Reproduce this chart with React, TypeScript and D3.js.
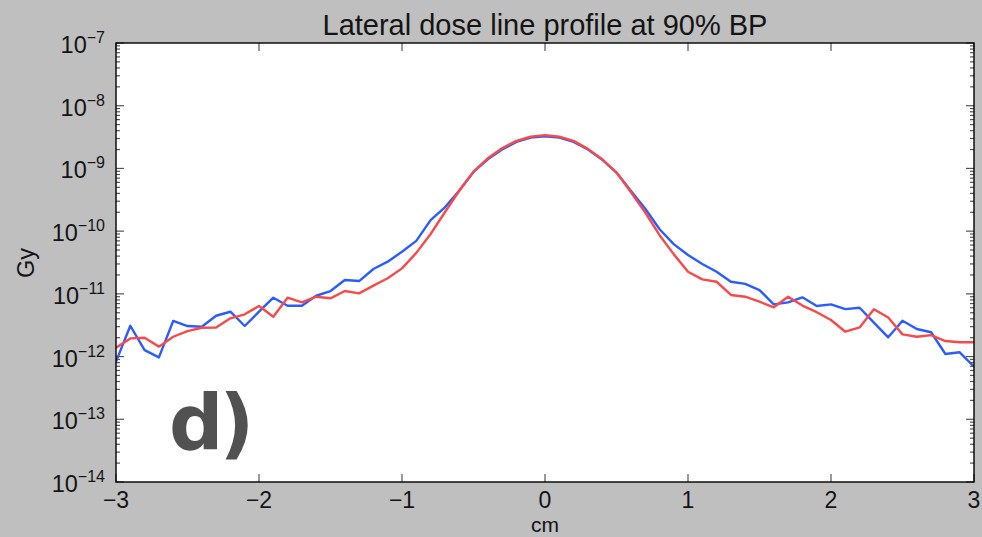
import React from "react";
import * as d3 from "d3";

const positionsCm = [
  -3.0, -2.9, -2.8, -2.7, -2.6, -2.5, -2.4, -2.3, -2.2, -2.1,
  -2.0, -1.9, -1.8, -1.7, -1.6, -1.5, -1.4, -1.3, -1.2, -1.1,
  -1.0, -0.9, -0.8, -0.7, -0.6, -0.5, -0.4, -0.3, -0.2, -0.1,
  0.0, 0.1, 0.2, 0.3, 0.4, 0.5, 0.6, 0.7, 0.8, 0.9,
  1.0, 1.1, 1.2, 1.3, 1.4, 1.5, 1.6, 1.7, 1.8, 1.9,
  2.0, 2.1, 2.2, 2.3, 2.4, 2.5, 2.6, 2.7, 2.8, 2.9, 3.0,
];

const blueDose = [
  8.3e-13, 3.1e-12, 1.27e-12, 9.7e-13, 3.7e-12, 3.07e-12, 2.99e-12, 4.48e-12, 5.19e-12, 3.07e-12,
  5.19e-12, 8.68e-12, 6.47e-12, 6.47e-12, 9.33e-12, 1.11e-11, 1.66e-11, 1.6e-11, 2.49e-11, 3.26e-11,
  4.7e-11, 7.0e-11, 1.5e-10, 2.4e-10, 4.4e-10, 8.8e-10, 1.4e-9, 2.0e-9, 2.65e-9, 3.1e-9,
  3.25e-9, 3.1e-9, 2.65e-9, 2.0e-9, 1.38e-9, 8.6e-10, 4.4e-10, 2.3e-10, 1.08e-10, 6.2e-11,
  4.16e-11, 3.0e-11, 2.25e-11, 1.56e-11, 1.44e-11, 1.15e-11, 6.8e-12, 7.3e-12, 8.8e-12, 6.4e-12,
  6.8e-12, 5.7e-12, 6.0e-12, 3.47e-12, 2.03e-12, 3.73e-12, 2.75e-12, 2.44e-12, 1.1e-12, 1.17e-12, 6.9e-13,
];

const redDose = [
  1.38e-12, 1.95e-12, 2.0e-12, 1.44e-12, 2.07e-12, 2.55e-12, 2.88e-12, 2.9e-12, 4.07e-12, 4.72e-12,
  6.4e-12, 4.32e-12, 8.68e-12, 7.33e-12, 9.0e-12, 8.49e-12, 1.11e-11, 1.02e-11, 1.35e-11, 1.77e-11,
  2.55e-11, 4.5e-11, 9.0e-11, 2.0e-10, 4.4e-10, 8.9e-10, 1.45e-9, 2.1e-9, 2.75e-9, 3.2e-9,
  3.4e-9, 3.2e-9, 2.75e-9, 2.05e-9, 1.4e-9, 8.6e-10, 4.2e-10, 2.0e-10, 8.7e-11, 4.3e-11,
  2.25e-11, 1.7e-11, 1.56e-11, 9.6e-12, 9.0e-12, 7.5e-12, 6.1e-12, 9.0e-12, 6.5e-12, 5.1e-12,
  3.83e-12, 2.49e-12, 2.92e-12, 5.67e-12, 4.2e-12, 2.26e-12, 2.07e-12, 2.2e-12, 1.77e-12, 1.69e-12, 1.69e-12,
];

const xTickValues = [-3, -2, -1, 0, 1, 2, 3];
const xTickLabels = ["\u22123", "\u22122", "\u22121", "0", "1", "2", "3"];
const yExponents = [-7, -8, -9, -10, -11, -12, -13, -14];

const TITLE = "Lateral dose line profile at 90% BP";
const X_LABEL = "cm";
const Y_LABEL = "Gy";
const PANEL = "d)";

const W = 982;
const H = 537;
const M = { left: 116, right: 974, top: 43, bottom: 482 };
const FONT = "'Liberation Sans', Arial, Helvetica, sans-serif";

export default function App() {
  const x = d3.scaleLinear().domain([-3, 3]).range([M.left, M.right]);
  const y = d3.scaleLog().domain([1e-14, 1e-7]).range([M.bottom, M.top]);

  const line = d3
    .line<number>()
    .x((_, i) => x(positionsCm[i]))
    .y((d) => y(d));

  const minorTicks: number[] = [];
  for (let e = -14; e < -7; e++) {
    for (let m = 2; m <= 9; m++) minorTicks.push(m * Math.pow(10, e));
  }

  const tickColor = "#555";
  const textColor = "#141414";

  return (
    <svg
      width={W}
      height={H}
      style={{ position: "absolute", left: 0, top: 0, background: "#bfbfbf" }}
    >
      <rect x={0} y={0} width={W} height={H} fill="#bfbfbf" />
      <rect
        x={M.left}
        y={M.top}
        width={M.right - M.left}
        height={M.bottom - M.top}
        fill="#ffffff"
      />
      <defs>
        <clipPath id="plotclip">
          <rect x={M.left} y={M.top} width={M.right - M.left} height={M.bottom - M.top} />
        </clipPath>
      </defs>

      {/* panel label */}
      <text
        x={169}
        y={449}
        fontFamily="'DejaVu Sans', sans-serif"
        fontWeight="bold"
        fontSize={76}
        letterSpacing={-4}
        fill="#515151"
      >
        {PANEL}
      </text>

      {/* data lines */}
      <g clipPath="url(#plotclip)" fill="none" strokeLinejoin="round">
        <path d={line(blueDose) || ""} stroke="#2b5cff" strokeWidth={2.4} />
        <path d={line(redDose) || ""} stroke="#f84a4a" strokeWidth={2.4} />
      </g>

      {/* ticks */}
      <g stroke={tickColor} strokeWidth={1.2}>
        {xTickValues.map((v) => (
          <g key={"xt" + v}>
            <line x1={x(v)} x2={x(v)} y1={M.bottom} y2={M.bottom - 8} />
            <line x1={x(v)} x2={x(v)} y1={M.top} y2={M.top + 8} />
          </g>
        ))}
        {yExponents.map((e) => (
          <g key={"yt" + e}>
            <line x1={M.left} x2={M.left + 8} y1={y(Math.pow(10, e))} y2={y(Math.pow(10, e))} />
            <line x1={M.right} x2={M.right - 8} y1={y(Math.pow(10, e))} y2={y(Math.pow(10, e))} />
          </g>
        ))}
        {minorTicks.map((v, i) => (
          <g key={"ym" + i}>
            <line x1={M.left} x2={M.left + 4} y1={y(v)} y2={y(v)} />
            <line x1={M.right} x2={M.right - 4} y1={y(v)} y2={y(v)} />
          </g>
        ))}
      </g>

      {/* frame */}
      <rect
        x={M.left}
        y={M.top}
        width={M.right - M.left}
        height={M.bottom - M.top}
        fill="none"
        stroke="#000"
        strokeWidth={1.4}
      />

      {/* x tick labels */}
      {xTickValues.map((v, i) => (
        <text
          key={"xl" + v}
          x={x(v)}
          y={508}
          textAnchor="middle"
          fontFamily={FONT}
          fontSize={23}
          fill={textColor}
        >
          {xTickLabels[i]}
        </text>
      ))}

      {/* y tick labels */}
      {yExponents.map((e) => (
        <text
          key={"yl" + e}
          x={105}
          y={y(Math.pow(10, e)) + 10}
          textAnchor="end"
          fontFamily={FONT}
          fontSize={23.5}
          fill={textColor}
        >
          <tspan>10</tspan>
          <tspan dy={-10} fontSize={16}>
            {"\u2212" + Math.abs(e)}
          </tspan>
        </text>
      ))}

      {/* axis labels */}
      <text
        x={(M.left + M.right) / 2}
        y={532}
        textAnchor="middle"
        fontFamily={FONT}
        fontSize={21}
        fill={textColor}
      >
        {X_LABEL}
      </text>
      <text
        transform={`translate(34, 263) rotate(-90)`}
        textAnchor="middle"
        fontFamily={FONT}
        fontSize={23.5}
        fill={textColor}
      >
        {Y_LABEL}
      </text>

      {/* title */}
      <text
        x={(M.left + M.right) / 2}
        y={35}
        textAnchor="middle"
        fontFamily={FONT}
        fontSize={29}
        fill={textColor}
      >
        {TITLE}
      </text>
    </svg>
  );
}
